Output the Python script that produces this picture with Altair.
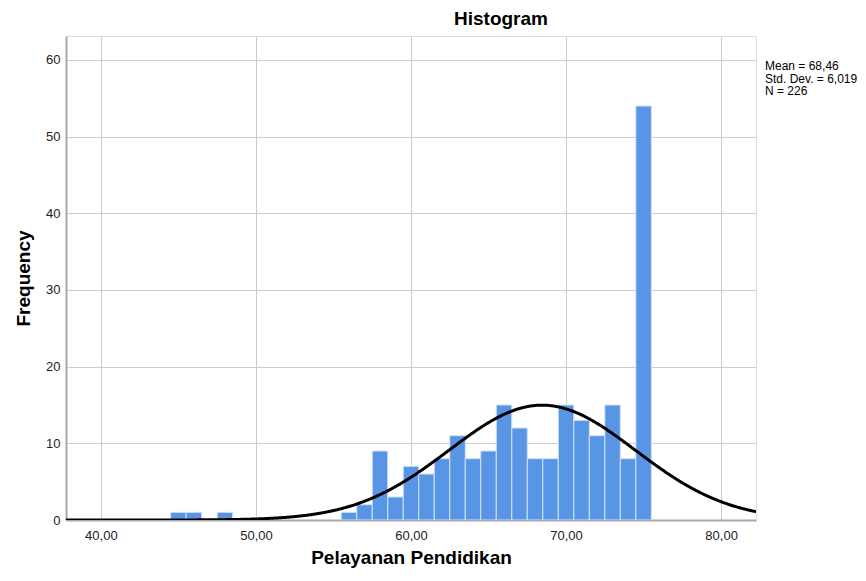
import altair as alt
import pandas as pd

# ---- data ----
bin_centers = [45, 46, 48, 56, 57, 58, 59, 60, 61, 62, 63, 64, 65, 66, 67, 68, 69, 70, 71, 72, 73, 74, 75]
counts = [1, 1, 1, 1, 2, 9, 3, 7, 6, 8, 11, 8, 9, 15, 12, 8, 8, 15, 13, 11, 15, 8, 54]
bin_width = 1.0
mean_val = 68.46
sd_val = 6.019
n_val = 226
x_ticks = [40, 50, 60, 70, 80]
y_ticks = [0, 10, 20, 30, 40, 50, 60]
stats_lines = ["Mean = 68,46", "Std. Dev. = 6,019", "N = 226"]

df = pd.DataFrame({"center": bin_centers, "count": counts})
df["start"] = df["center"] - bin_width / 2
df["end"] = df["center"] + bin_width / 2

FONT = "Liberation Sans"
x_scale = alt.Scale(domain=[37.75, 82.25], nice=False, zero=False)
y_scale = alt.Scale(domain=[0, 63.13], nice=False)

x_axis = alt.Axis(
    values=x_ticks,
    labelExpr="replace(format(datum.value, '.2f'), '.', ',')",
    grid=True, gridColor="#cccccc", gridWidth=1,
    ticks=False, domainColor="#a8a8a8", domainWidth=2,
    labelFont=FONT, labelFontSize=13, labelColor="#222222", labelPadding=9,
    title="Pelayanan Pendidikan", titleFont=FONT, titleFontSize=19,
    titleFontWeight="bold", titleColor="#000000", titlePadding=6,
)
y_axis = alt.Axis(
    values=y_ticks, format="d",
    grid=True, gridColor="#cccccc", gridWidth=1,
    ticks=False, domainColor="#a8a8a8", domainWidth=2,
    labelFont=FONT, labelFontSize=13, labelColor="#222222", labelPadding=6,
    title="Frequency", titleFont=FONT, titleFontSize=19,
    titleFontWeight="bold", titleColor="#000000", titlePadding=12,
)

bars = alt.Chart(df).mark_bar(
    color="#5896e5", stroke="#d2e2f7", strokeWidth=1, clip=True
).encode(
    x=alt.X("start:Q", scale=x_scale, axis=x_axis),
    x2="end:Q",
    y=alt.Y("count:Q", scale=y_scale, axis=y_axis),
    y2=alt.datum(0),
)

curve = alt.Chart(alt.sequence(37.75, 82.3, 0.05, as_="v")).transform_calculate(
    f=f"{n_val} * {bin_width} * exp(-0.5 * pow((datum.v - {mean_val}) / {sd_val}, 2)) / ({sd_val} * sqrt(2 * PI))"
).mark_line(color="#000000", strokeWidth=3, clip=True).encode(
    x=alt.X("v:Q", scale=x_scale),
    y=alt.Y("f:Q", scale=y_scale),
)

stats = alt.Chart(pd.DataFrame({"k": [0]})).mark_text(
    text=stats_lines, align="left", baseline="top",
    font=FONT, fontSize=12, lineHeight=12.5, color="#000000",
).encode(x=alt.value(699), y=alt.value(25))

chart = alt.layer(bars, curve, stats).properties(
    width=690, height=484,
    title=alt.TitleParams("Histogram", font=FONT, fontSize=19, fontWeight="bold",
                          anchor="middle", dx=90, offset=7, color="#000000"),
    autosize=alt.AutoSizeParams(type="none"),
    padding={"left": 58, "top": 28, "right": 102, "bottom": 53},
).configure_view(stroke=None).configure(background="#ffffff")

chart.save("out.html", embed_options={"renderer": "svg", "actions": False})
